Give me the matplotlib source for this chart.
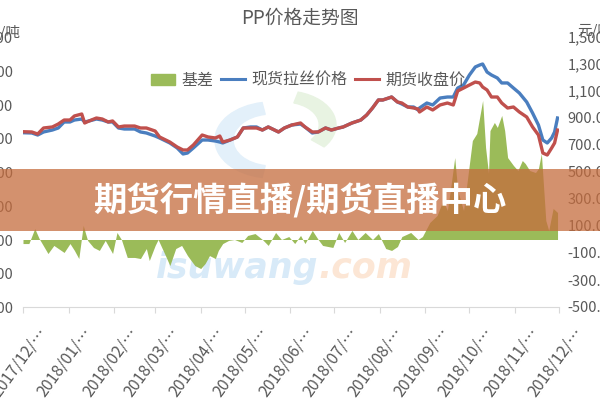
import numpy as np
import pandas as pd
import matplotlib
matplotlib.use("Agg")
import matplotlib.pyplot as plt
import matplotlib.dates as mdates
from matplotlib.ticker import FuncFormatter, FixedLocator
from matplotlib.patches import Rectangle, Wedge, Patch
from matplotlib.lines import Line2D
from matplotlib.transforms import ScaledTranslation

plt.rcParams['font.family'] = ['Noto Sans CJK SC', 'DejaVu Sans']

title = "PP价格走势图"
unit = "元/吨"
series_names = ["基差", "现货拉丝价格", "期货收盘价"]
banner_text = "期货行情直播/期货直播中心"
left_ticks = [7000, 7500, 8000, 8500, 9000, 9500, 10000, 10500, 11000]
right_ticks = [-500, -300, -100, 100, 300, 500, 700, 900, 1100, 1300, 1500]

# spot and futures prices (left axis)
price_dates = [
    "2017-12-01", "2017-12-07", "2017-12-11", "2017-12-15", "2017-12-21", "2017-12-25", "2017-12-29",
    "2018-01-02", "2018-01-05", "2018-01-10", "2018-01-12", "2018-01-15", "2018-01-20", "2018-01-24",
    "2018-01-28", "2018-01-31", "2018-02-04", "2018-02-08", "2018-02-15", "2018-02-19", "2018-02-23",
    "2018-03-01", "2018-03-04", "2018-03-11", "2018-03-16", "2018-03-20", "2018-03-23", "2018-03-27",
    "2018-04-02", "2018-04-06", "2018-04-11", "2018-04-14", "2018-04-16", "2018-04-21", "2018-04-26",
    "2018-04-30", "2018-05-05", "2018-05-09", "2018-05-13", "2018-05-17", "2018-05-24", "2018-05-28",
    "2018-06-02", "2018-06-08", "2018-06-11", "2018-06-16", "2018-06-20", "2018-06-25", "2018-06-29",
    "2018-07-04", "2018-07-07", "2018-07-13", "2018-07-19", "2018-07-23", "2018-07-27", "2018-07-31",
    "2018-08-03", "2018-08-07", "2018-08-09", "2018-08-13", "2018-08-16", "2018-08-20", "2018-08-24",
    "2018-08-27", "2018-08-28", "2018-09-02", "2018-09-06", "2018-09-11", "2018-09-16", "2018-09-20",
    "2018-09-23", "2018-09-27", "2018-10-01", "2018-10-05", "2018-10-08", "2018-10-10", "2018-10-13",
    "2018-10-16", "2018-10-20", "2018-10-23", "2018-10-27", "2018-10-31", "2018-11-04", "2018-11-09",
    "2018-11-13", "2018-11-17", "2018-11-20", "2018-11-23", "2018-11-26", "2018-11-28", "2018-11-30",
]
spot_price = [
    9582, 9578, 9548, 9593, 9622, 9652, 9741,
    9741, 9770, 9785, 9741, 9756, 9785, 9770,
    9741, 9741, 9652, 9637, 9637, 9593, 9578,
    9533, 9504, 9430, 9356, 9267, 9281, 9356,
    9474, 9474, 9459, 9444, 9430, 9474, 9519,
    9652, 9667, 9667, 9622, 9667, 9593, 9652,
    9696, 9711, 9667, 9578, 9593, 9652, 9622,
    9652, 9667, 9726, 9770, 9844, 9948, 10067,
    10067, 10096, 10111, 10037, 10007, 9963, 9963,
    9919, 9948, 10022, 9993, 10096, 10111, 10111,
    10244, 10289, 10437, 10556, 10585, 10600, 10481,
    10437, 10393, 10319, 10319, 10244, 10170, 10037,
    9874, 9696, 9474, 9430, 9504, 9593, 9800,
]
futures_close = [
    9597, 9593, 9563, 9652, 9667, 9711, 9770,
    9770, 9830, 9859, 9726, 9756, 9800, 9785,
    9741, 9756, 9667, 9681, 9681, 9652, 9652,
    9607, 9519, 9444, 9370, 9326, 9326, 9400,
    9548, 9519, 9504, 9533, 9444, 9474, 9519,
    9652, 9652, 9652, 9622, 9667, 9593, 9652,
    9696, 9726, 9667, 9593, 9593, 9652, 9622,
    9652, 9667, 9726, 9770, 9844, 9948, 10067,
    10067, 10096, 10111, 10037, 10022, 9963, 9948,
    9933, 9889, 9963, 9919, 9993, 10022, 9993,
    10200, 10244, 10289, 10333, 10319, 10259, 10215,
    10111, 10111, 10022, 9948, 9963, 9889, 9815,
    9667, 9548, 9281, 9252, 9356, 9430, 9622,
]

# basis (right axis)
basis_dates = [
    "2017-12-01", "2017-12-05", "2017-12-09", "2017-12-12", "2017-12-18", "2017-12-22", "2017-12-29",
    "2018-01-02", "2018-01-05", "2018-01-08", "2018-01-11", "2018-01-14", "2018-01-18", "2018-01-22",
    "2018-01-26", "2018-01-31", "2018-02-03", "2018-02-06", "2018-02-10", "2018-02-15", "2018-02-19",
    "2018-02-23", "2018-02-25", "2018-03-01", "2018-03-03", "2018-03-08", "2018-03-11", "2018-03-15",
    "2018-03-19", "2018-03-23", "2018-03-28", "2018-04-01", "2018-04-04", "2018-04-07", "2018-04-11",
    "2018-04-13", "2018-04-16", "2018-04-20", "2018-04-24", "2018-04-29", "2018-05-03", "2018-05-08",
    "2018-05-13", "2018-05-17", "2018-05-22", "2018-05-26", "2018-05-31", "2018-06-04", "2018-06-08",
    "2018-06-11", "2018-06-16", "2018-06-20", "2018-06-23", "2018-06-30", "2018-07-04", "2018-07-08",
    "2018-07-13", "2018-07-17", "2018-07-22", "2018-07-27", "2018-07-31", "2018-08-05", "2018-08-09",
    "2018-08-13", "2018-08-16", "2018-08-22", "2018-08-27", "2018-08-30", "2018-09-04", "2018-09-09",
    "2018-09-13", "2018-09-16", "2018-09-18", "2018-09-21", "2018-09-23", "2018-09-27", "2018-09-30",
    "2018-10-03", "2018-10-06", "2018-10-10", "2018-10-12", "2018-10-14", "2018-10-15", "2018-10-18",
    "2018-10-20", "2018-10-23", "2018-10-25", "2018-10-27", "2018-10-31", "2018-11-03", "2018-11-06",
    "2018-11-08", "2018-11-11", "2018-11-15", "2018-11-17", "2018-11-19", "2018-11-22", "2018-11-24",
    "2018-11-27", "2018-11-30",
]
basis = [
    -30, -30, 81, 7, -104, -44, -96,
    -30, -81, -141, 104, -7, -59, -81,
    -7, -104, 52, 0, -133, -133, -141,
    -67, -156, -44, 0, -119, -193, -67,
    -44, -119, -193, -215, -178, -119, -141,
    -81, -30, -7, 0, -22, 30, 44,
    0, -44, 52, 0, 22, -30, 30,
    -30, 67, 0, -44, -59, 52, -22,
    67, 0, 52, 0, 44, -67, -81,
    -52, 22, 52, 0, 22, 126, 178,
    289, 215, 363, 607, 363, 215, 474,
    733, 785, 1030, 681, 489, 807, 867,
    830, 919, 807, 607, 548, 511, 585,
    563, 511, 496, 526, 637, 141, 67,
    230, 200,
]

pd_dates = pd.to_datetime(price_dates)
bd_dates = pd.to_datetime(basis_dates)

grey = '#595959'
c_green = '#9bbb59'
c_blue = '#4a7ebf'
c_red = '#c0504d'

fig = plt.figure(figsize=(6, 4), dpi=100, facecolor='white')
ax = fig.add_axes([23/600, 1-307/400, 536/600, 270/400])
ax2 = ax.twinx()
ax.set_zorder(3)
ax2.set_zorder(2)
ax.patch.set_visible(False)
ax2.patch.set_visible(False)

# faint watermark behind the chart
fig.patches.append(Wedge((272/600, 1-140/400), 0.095, 100, 260, width=0.03,
                         transform=fig.transFigure, color='#e3f0fa', zorder=0))
fig.patches.append(Wedge((285/600, 1-125/400), 0.085, -40, 75, width=0.028,
                         transform=fig.transFigure, color='#e8f3e2', zorder=0))
fig.text(318/600, 1-268/400, "isuwang", ha='right', va='center', fontsize=25,
         fontweight='bold', style='italic', family='DejaVu Sans', color='#d8eaf8', zorder=0)
fig.text(318/600, 1-268/400, ".com", ha='left', va='center', fontsize=25,
         fontweight='bold', style='italic', family='DejaVu Sans', color='#fce6d5', zorder=0)

ax2.fill_between(bd_dates, basis, 0, color=c_green, lw=0)
ax.plot(pd_dates, spot_price, color=c_blue, lw=2.4)
ax.plot(pd_dates, futures_close, color=c_red, lw=2.4)

ax.set_xlim(pd.Timestamp("2017-12-01"), pd.Timestamp("2018-12-01"))
ax.set_ylim(left_ticks[0], left_ticks[-1])
ax.yaxis.set_major_locator(FixedLocator(left_ticks))
ax.yaxis.set_major_formatter(FuncFormatter(lambda v, p: f"{v:,.0f}"))
ax2.set_ylim(right_ticks[0], right_ticks[-1])
ax2.yaxis.set_major_locator(FixedLocator(right_ticks))
ax2.yaxis.set_major_formatter(FuncFormatter(lambda v, p: f"{v:,.2f}"))

ax.xaxis.set_major_locator(mdates.MonthLocator())
ax.xaxis.set_major_formatter(FuncFormatter(lambda v, p: mdates.num2date(v).strftime("%Y/%m/") + "…"))

for a in (ax, ax2):
    for s in a.spines.values():
        s.set_visible(False)
ax.spines['bottom'].set_visible(True)
ax.spines['bottom'].set_color('#d9d9d9')

ax.tick_params(axis='y', length=0, labelcolor=grey, labelsize=10.5, pad=7)
ax2.tick_params(axis='y', length=0, labelcolor=grey, labelsize=10.5, pad=6)
ax.tick_params(axis='x', length=4, color='#d9d9d9', labelcolor=grey, labelsize=11.5, pad=12)
shift = ScaledTranslation(20/100, 0, fig.dpi_scale_trans)
for lab in ax.get_xticklabels():
    lab.set_rotation(54)
    lab.set_ha('right')
    lab.set_va('center')
    lab.set_rotation_mode('anchor')
    lab.set_transform(lab.get_transform() + shift)

fig.text(20/600, 1-32/400, unit, ha='right', va='center', fontsize=10.5, color=grey)
fig.text(577/600, 1-30/400, unit, ha='left', va='center', fontsize=10.5, color=grey)
fig.text(300/600, 1-18/400, title, ha='center', va='center', fontsize=13.5, color=grey)

handles = [Patch(color=c_green), Line2D([], [], color=c_blue, lw=2.2), Line2D([], [], color=c_red, lw=2.2)]
ax.legend(handles, series_names, loc='center', bbox_to_anchor=(0.532, 0.84), ncol=3,
          frameon=False, fontsize=11.5, handlelength=1.5, handletextpad=0.4,
          columnspacing=0.5, labelcolor=grey)

# overlay banner
fig.patches.append(Rectangle((0, 1-231/400), 1, 62/400, transform=fig.transFigure,
                             color='#c56c3d', alpha=0.75, lw=0, zorder=10))
fig.text(0.5, 1-201/400, banner_text, ha='center', va='center', color='white',
         fontsize=24, fontweight='bold', zorder=11)

fig.savefig("out.png", dpi=100)
